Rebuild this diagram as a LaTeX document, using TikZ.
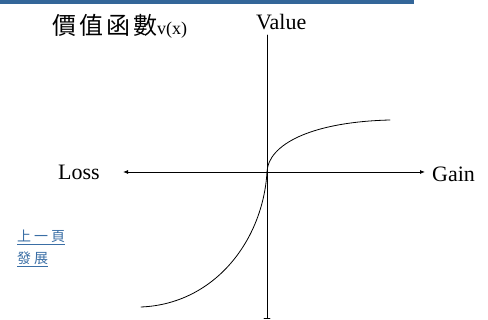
\documentclass[tikz,border=0pt]{standalone}
\usepackage{fontspec}
\setmainfont{Liberation Serif}
\newfontfamily\cjkfont{Noto Sans CJK TC}
\usetikzlibrary{arrows.meta}
\definecolor{barblue}{HTML}{336699}
\definecolor{linkblue}{HTML}{3A6EA5}
\newcommand{\cjksp}{\hspace{3pt}}

\begin{document}
\begin{tikzpicture}[x=1pt, y=1pt, line cap=round, line join=round, >={Latex[length=5pt,width=4pt]}]
\tikzset{axis/.style={line width=0.8pt}, curve/.style={line width=0.8pt},
  lbl/.style={font=\fontsize{22}{24}\selectfont, inner sep=0pt},
  link/.style={font=\cjkfont\fontsize{14}{16}\selectfont, text=linkblue, inner sep=0pt, anchor=west}}
\useasboundingbox (0,0) rectangle (488,320);

% top bar
\fill[barblue] (0,316) rectangle (414,320);

% axes (px)
\coordinate (O)   at (267,148);
\coordinate (Top) at (267,285);
\coordinate (Bot) at (267,2);
\coordinate (L)   at (123,148);
\coordinate (R)   at (425,148);
\draw[axis] (O) -- (Top);
\draw[axis] (O) -- (Bot);
\draw[axis] ([xshift=-3pt]Bot) -- ([xshift=3pt]Bot);
\draw[axis,->] (O) -- (L);
\draw[axis,->] (O) -- (R);

% value curve
\coordinate (G) at (390,200);
\coordinate (S) at (141,13);
\draw[curve] (O) .. controls (268,175) and (310,198) .. (G);
\draw[curve] (O) .. controls (263,80) and (215,16) .. (S);

% labels
\node[lbl, anchor=west] (title) at (52,294) {{\cjkfont\fontsize{24}{26}\selectfont 價\cjksp 值\cjksp 函\cjksp 數}{\fontsize{18}{20}\selectfont v(x)}};
\node[lbl, anchor=west] (value) at (256,298) {Value};
\node[lbl, anchor=west] (loss)  at (58,148) {Loss};
\node[lbl, anchor=west] (gain)  at (432,146) {Gain};

% links
\node[link] (prev) at (17,83) {\underline{上\hspace{3pt}一\hspace{3pt}頁}};
\node[link] (dev)  at (17,61) {\underline{發\hspace{3pt}展}};
\end{tikzpicture}
\end{document}
